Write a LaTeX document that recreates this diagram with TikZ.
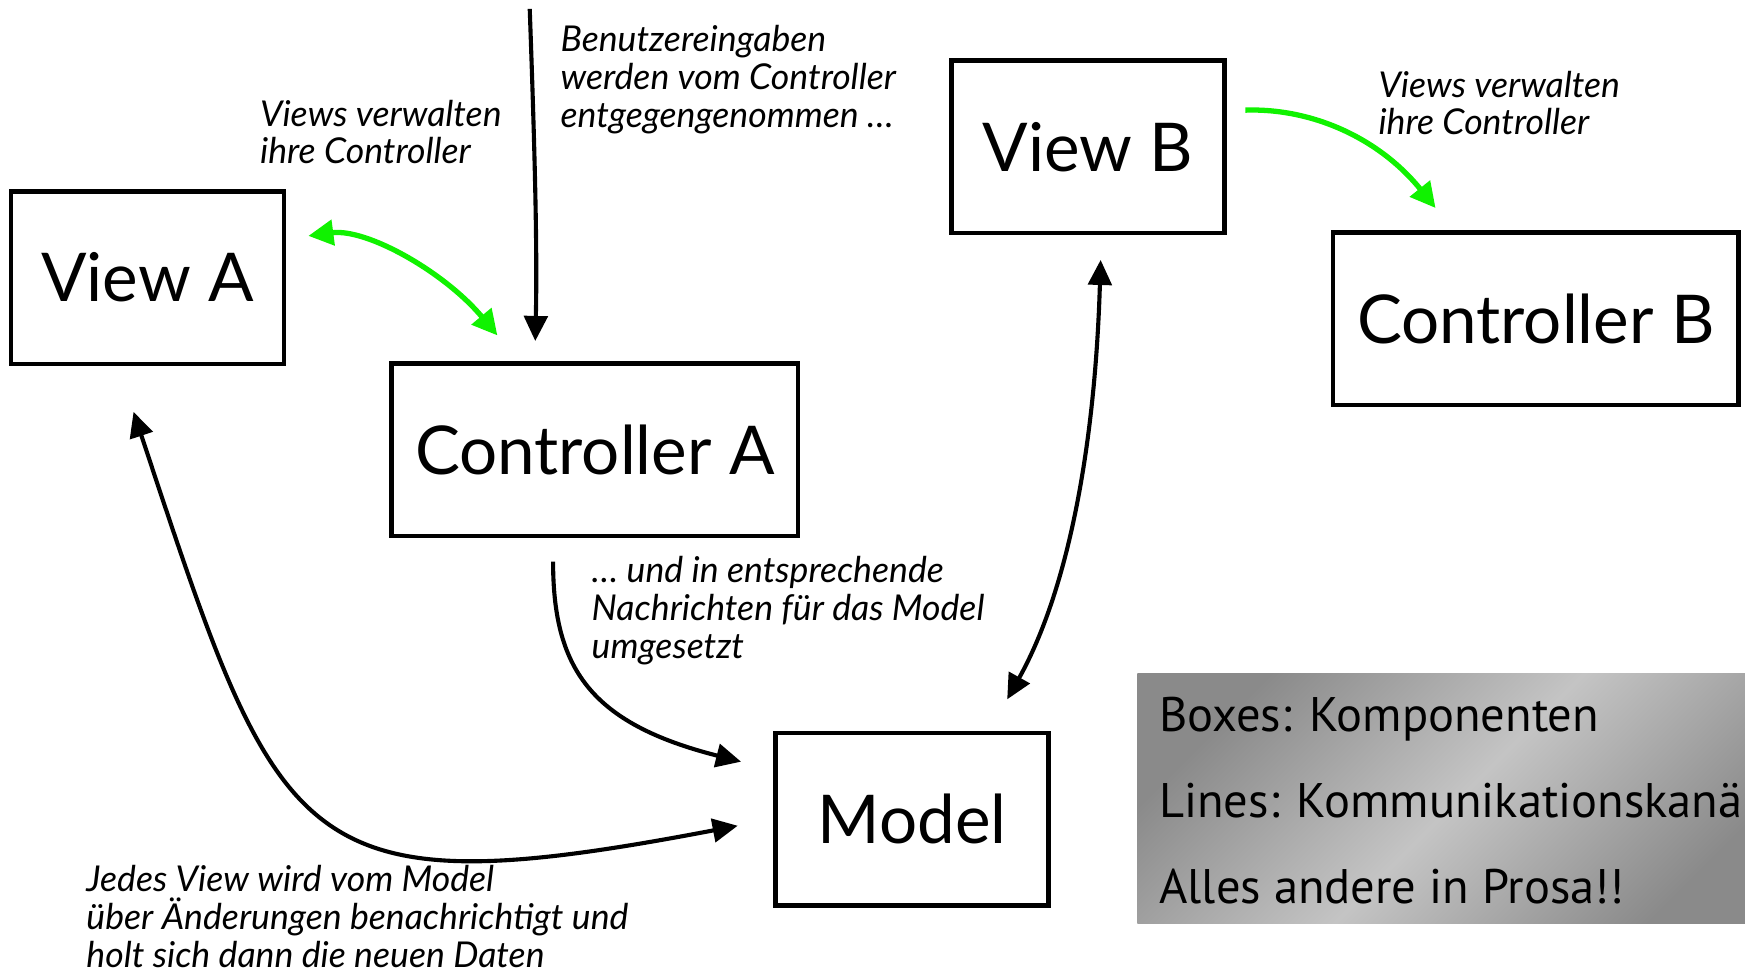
\documentclass[tikz,border=0pt]{standalone}
\usepackage{fontspec}
\setmainfont{Lato}
\newfontfamily\legendfont{PT Sans}
\usepackage{xcolor}
\usetikzlibrary{arrows.meta}
\definecolor{link-green}{RGB}{16,242,0}
\definecolor{legend-dark}{RGB}{138,138,138}
\definecolor{legend-light}{RGB}{196,196,196}
\tikzset{
    comp-box/.style = {draw, line width=1.15pt, rectangle, minimum width=2.45cm, minimum height=1.55cm, inner sep=0pt, font=\fontsize{17.2}{20}\selectfont},
    note-text/.style = {anchor=north west, align=left, inner sep=0pt, font=\itshape\fontsize{9.1}{9.67}\selectfont},
    legend-text/.style = {anchor=base west, inner sep=0pt, font=\legendfont\fontsize{12.4}{14}\selectfont},
    link/.style = {line width=1.05pt, -{Triangle[length=6.4pt,width=6pt]}},
    both-link/.style = {line width=1.05pt, {Triangle[length=6.4pt,width=6pt]}-{Triangle[length=6.4pt,width=6pt]}},
    green-link/.style = {draw=link-green, line width=1.35pt, -{Triangle[length=6.4pt,width=6.4pt]}},
}

\begin{document}
\begin{tikzpicture}[x=0.01cm, y=-0.01cm]
\useasboundingbox (0,0) rectangle (1568,871);

% components
\node[comp-box] (viewA) at (132.5,249.5) {View A};
\node[comp-box, minimum width=3.65cm] (ctrlA) at (534.5,404) {Controller A};
\node[comp-box] (viewB) at (977.5,132) {View B};
\node[comp-box, minimum width=3.64cm] (ctrlB) at (1380,286.5) {Controller B};
\node[comp-box] (model) at (819.5,736) {Model};

% prose
\node[note-text] (viewsNoteA) at (233,89) {Views verwalten\\ihre Controller};
\node[note-text] (inputNote) at (503,22) {Benutzereingaben\\werden vom Controller\\entgegengenommen …};
\node[note-text] (viewsNoteB) at (1238,63) {Views verwalten\\ihre Controller};
\node[note-text] (msgNote) at (531,499) {… und in entsprechende\\Nachrichten für das Model\\umgesetzt};
\node[note-text] (updateNote) at (77,777) {Jedes View wird vom Model\\über Änderungen benachrichtigt und\\holt sich dann die neuen Daten};

% channels
\coordinate (input) at (476,8);
\draw[link] (input) .. controls (480,120) and (483,220) .. ([xshift=-0.535cm,yshift=0.18cm]ctrlA.north);
\draw[green-link, {Triangle[length=6.4pt,width=6.4pt]}-{Triangle[length=6.4pt,width=6.4pt]}] ([xshift=0.2cm,yshift=0.375cm]viewA.east) .. controls (330,205) and (400,245) .. ([xshift=-0.875cm,yshift=0.23cm]ctrlA.north);
\draw[green-link] ([xshift=0.17cm,yshift=0.33cm]viewB.east) .. controls (1180,97) and (1240,125) .. ([xshift=-0.9cm,yshift=0.2cm]ctrlB.north);
\draw[both-link] ([xshift=-0.125cm,yshift=-0.41cm]viewA.south) .. controls (252,768) and (265,818) .. ([xshift=-0.32cm,yshift=-0.06cm]model.west);
\draw[link] ([xshift=-0.375cm,yshift=-0.21cm]ctrlA.south) .. controls (497,600) and (530,650) .. ([xshift=-0.29cm,yshift=-0.28cm]model.north west);
\draw[both-link] ([xshift=0.115cm,yshift=-0.22cm]viewB.south) .. controls (984,400) and (960,530) .. ([xshift=0.855cm,yshift=0.28cm]model.north);

% legend
\shade[top color=legend-dark, bottom color=legend-dark, middle color=legend-light, shading angle=45] (1022,605) rectangle (1600,830);
\node[legend-text] (legBoxes) at (1041,657) {Boxes: Komponenten};
\node[legend-text] (legLines) at (1041,735) {Lines: Kommunikationskanäle};
\node[legend-text] (legProse) at (1041,812) {Alles andere in Prosa!!};
\end{tikzpicture}
\end{document}
